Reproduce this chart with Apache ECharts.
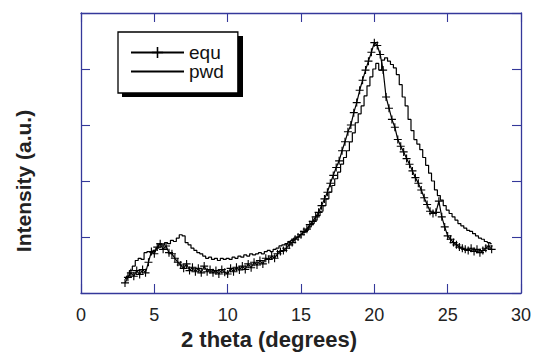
<!DOCTYPE html>
<html>
<head>
<meta charset="utf-8">
<script src="https://cdn.jsdelivr.net/npm/echarts@6/dist/echarts.min.js"></script>
<style>html,body{margin:0;padding:0;background:#fff}#c{width:534px;height:354px}</style>
</head>
<body>
<div id="c"></div>
<script>
// ---- data ----
const xStart = 3.0, xStep = 0.2;           // sampling of both scans (2 theta, degrees)
const equValues = [
  0.18,0.28,0.36,0.30,0.40, 0.33,0.42,0.36,0.55,0.74,
  0.70,0.82,0.88,0.78,0.84, 0.72,0.70,0.62,0.55,0.50,
  0.44,0.52,0.40,0.46,0.38, 0.44,0.36,0.48,0.38,0.42,
  0.36,0.40,0.34,0.42,0.37, 0.34,0.44,0.38,0.46,0.41,
  0.48,0.42,0.52,0.45,0.55, 0.50,0.58,0.52,0.62,0.60,
  0.66,0.62,0.70,0.74,0.76, 0.80,0.86,0.90,0.96,1.00,
  1.04,1.10,1.14,1.22,1.28, 1.36,1.44,1.56,1.68,1.80,
  1.96,2.10,2.24,2.36,2.54, 2.70,2.88,3.00,3.22,3.40,
  3.62,3.80,3.98,4.14,4.30, 4.47,4.42,4.26,3.98,3.50,
  3.30,3.10,2.96,2.74,2.62, 2.52,2.40,2.30,2.18,2.06,
  1.96,1.84,1.70,1.58,1.46, 1.42,1.44,1.64,1.36,1.18,
  1.02,0.96,0.90,0.86,0.82, 0.80,0.78,0.76,0.80,0.74,
  0.78,0.72,0.76,0.80,0.84, 0.78
];
const pwdValues = [
  0.26,0.30,0.40,0.48,0.58, 0.62,0.60,0.72,0.74,0.72,
  0.76,0.80,0.88,0.86,0.90, 0.88,0.94,0.92,0.98,1.04,
  1.02,0.90,0.86,0.80,0.76, 0.72,0.70,0.66,0.62,0.64,
  0.60,0.62,0.58,0.62,0.60, 0.62,0.60,0.64,0.62,0.66,
  0.64,0.68,0.66,0.70,0.68, 0.70,0.72,0.70,0.74,0.76,
  0.74,0.78,0.80,0.84,0.86, 0.88,0.92,0.94,0.98,1.00,
  1.04,1.08,1.12,1.18,1.24, 1.30,1.38,1.46,1.56,1.68,
  1.80,1.92,2.04,2.16,2.30, 2.42,2.54,2.70,2.86,3.04,
  3.20,3.34,3.52,3.70,3.86, 4.00,4.10,3.98,4.16,4.20,
  4.14,4.08,4.02,3.90,3.72, 3.50,3.34,3.10,2.90,2.74,
  2.66,2.56,2.42,2.28,2.14, 2.00,1.84,1.74,1.66,1.56,
  1.48,1.42,1.36,1.30,1.24, 1.20,1.16,1.12,1.10,1.06,
  1.02,0.98,0.96,0.92,0.90, 0.88
];
const seriesNames = ['equ', 'pwd'];
const xTicks = { min: 0, max: 30, interval: 5 };
const yTicks = { min: 0, max: 5, interval: 1 };
const xTitle = '2 theta (degrees)';
const yTitle = 'Intensity (a.u.)';

// ---- build ----
const toPairs = vals => vals.map((v, i) => [+(xStart + i * xStep).toFixed(2), v]);
const AX = '#34389a';
const FONT = '"Liberation Sans", Arial, Helvetica, sans-serif';
const plus = 'path://M0,4.3H10V5.7H0Z M4.3,0H5.7V10H4.3Z';
const invisibleMark = 'path://M0,0H0.05V0.05H0Z M9.95,9.95H10V10H9.95Z';

const axisCommon = {
  axisLine: { show: true, onZero: false, lineStyle: { color: AX, width: 1.3 } },
  axisTick: { show: true, inside: true, length: 9, lineStyle: { color: AX, width: 1.1 } },
  splitLine: { show: false }
};

const chart = echarts.init(document.getElementById('c'), null, { renderer: 'svg' });
chart.setOption({
  animation: false,
  backgroundColor: '#fff',
  grid: { left: 81, right: 10, top: 13, bottom: 61 },
  xAxis: [
    Object.assign({ type: 'value', position: 'bottom', min: xTicks.min, max: xTicks.max, interval: xTicks.interval,
      axisLabel: { show: true, margin: 13, fontSize: 18, color: '#222', fontFamily: FONT } }, axisCommon),
    Object.assign({ type: 'value', position: 'top', min: xTicks.min, max: xTicks.max, interval: xTicks.interval,
      axisLabel: { show: false } }, axisCommon)
  ],
  yAxis: [
    Object.assign({ type: 'value', position: 'left', min: yTicks.min, max: yTicks.max, interval: yTicks.interval,
      axisLabel: { show: false } }, axisCommon),
    Object.assign({ type: 'value', position: 'right', min: yTicks.min, max: yTicks.max, interval: yTicks.interval,
      axisLabel: { show: false } }, axisCommon)
  ],
  legend: {
    left: 118, top: 32, orient: 'vertical',
    padding: [11, 14, 12, 12], itemGap: 0,
    itemWidth: 53, itemHeight: 14,
    backgroundColor: '#fff', borderColor: '#000', borderWidth: 1.3, borderRadius: 0,
    textStyle: { fontSize: 19, color: '#111', fontFamily: FONT },
    data: [seriesNames[0], { name: seriesNames[1], itemStyle: { opacity: 0 } }],
    z: 20
  },
  graphic: [
    { type: 'text', left: 181, top: 328, z: 20, style: { text: xTitle, fill: '#222', font: 'bold 22px ' + FONT } },
    { type: 'text', x: 23, y: 181, rotation: Math.PI / 2, z: 20, style: { text: yTitle, fill: '#222', font: 'bold 21px ' + FONT, align: 'center', verticalAlign: 'middle' } },
    { type: 'rect', shape: { x: 122, y: 36, width: 121, height: 61 }, style: { fill: '#000' }, z: 19 }
  ],
  series: [
    { name: seriesNames[0], type: 'line', data: toPairs(equValues),
      symbol: plus, symbolSize: 8, showSymbol: true, showAllSymbol: true,
      itemStyle: { color: '#000' }, lineStyle: { color: '#000', width: 1.2 } },
    { name: seriesNames[1], type: 'line', data: toPairs(pwdValues), step: 'middle',
      symbol: invisibleMark, showSymbol: false, itemStyle: { color: '#000' }, lineStyle: { color: '#000', width: 1.2 } }
  ]
});
</script>
</body>
</html>
